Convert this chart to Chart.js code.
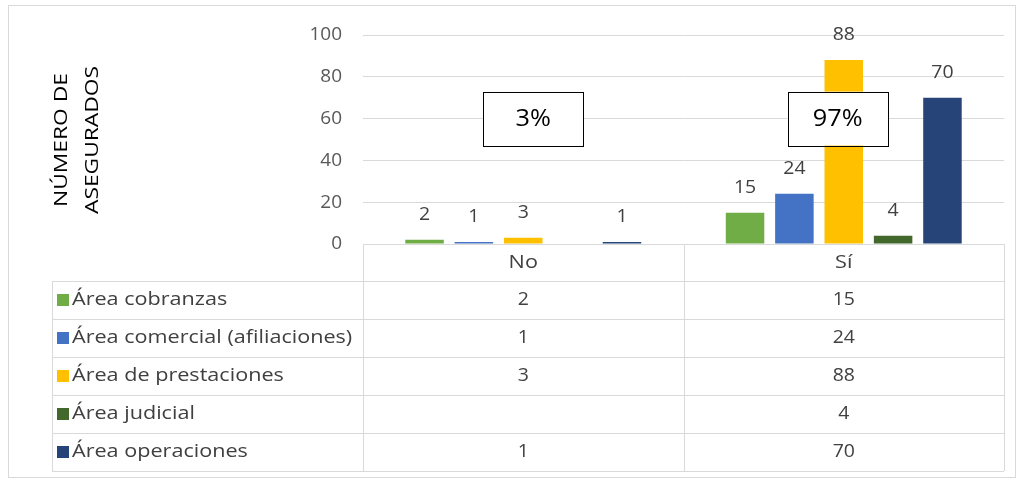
<!DOCTYPE html>
<html>
<head>
<meta charset="utf-8">
<script src="https://cdn.jsdelivr.net/npm/chart.js@4.4.0/dist/chart.umd.min.js"></script>
<style>
  body { margin: 0; background: #fff; }
  .chart-container { position: relative; width: 1024px; height: 483px; }
</style>
</head>
<body>
<div class="chart-container"><canvas id="chart"></canvas></div>
<script>
const categories = ['No', 'Sí'];
const seriesNames = ['Área cobranzas', 'Área comercial (afiliaciones)', 'Área de prestaciones', 'Área judicial', 'Área operaciones'];
const cobranzas = [2, 15];
const comercial = [1, 24];
const prestaciones = [3, 88];
const judicial = [null, 4];
const operaciones = [1, 70];
const shareLabels = ['3%', '97%'];
const yTicks = [0, 20, 40, 60, 80, 100];
const seriesColors = ['#70ad47', '#4472c4', '#ffc000', '#43682b', '#264478'];

const FONT = "'Open Sans', sans-serif";
const TEXT_STRETCH = 1.2;   // the source font is wider than Open Sans
const seriesValues = [cobranzas, comercial, prestaciones, judicial, operaciones];

function wideText(ctx, txt, x, y, sx) {
  ctx.save();
  ctx.translate(x, y);
  ctx.scale(sx, 1);
  ctx.fillText(txt, 0, 0);
  ctx.restore();
}

// outer frame of the chart object
const framePlugin = {
  id: 'frame',
  beforeDraw(chart) {
    const ctx = chart.ctx;
    ctx.save();
    ctx.fillStyle = '#fff';
    ctx.fillRect(0, 0, chart.width, chart.height);
    ctx.strokeStyle = '#d9d9d9';
    ctx.lineWidth = 1;
    ctx.strokeRect(8.5, 5.5, chart.width - 17, chart.height - 11);
    ctx.restore();
  }
};

// values above the bars
const valueLabels = {
  id: 'valueLabels',
  afterDatasetsDraw(chart) {
    const ctx = chart.ctx;
    ctx.save();
    ctx.font = '18px ' + FONT;
    ctx.fillStyle = '#404040';
    ctx.textAlign = 'center';
    ctx.textBaseline = 'middle';
    chart.data.datasets.forEach((ds, i) => {
      chart.getDatasetMeta(i).data.forEach((bar, j) => {
        if (ds.data[j] == null) return;
        wideText(ctx, String(ds.data[j]), bar.x, bar.y - 25, 1.08);
      });
    });
    ctx.restore();
  }
};

// percentage boxes
const shareBoxes = {
  id: 'shareBoxes',
  afterDraw(chart) {
    const ctx = chart.ctx;
    const xs = chart.scales.x, ys = chart.scales.y;
    const shift = [10, -6];
    ctx.save();
    shareLabels.forEach((txt, i) => {
      const cx = xs.getPixelForValue(i) + shift[i];
      const cy = ys.getPixelForValue(60);
      const w = 100, h = 54;
      ctx.fillStyle = '#fff';
      ctx.fillRect(cx - w / 2, cy - h / 2, w, h);
      ctx.strokeStyle = '#000';
      ctx.lineWidth = 1;
      ctx.strokeRect(Math.round(cx - w / 2) + 0.5, Math.round(cy - h / 2) + 0.5, w, h);
      ctx.fillStyle = '#000';
      ctx.font = '23px ' + FONT;
      ctx.textAlign = 'center';
      ctx.textBaseline = 'middle';
      wideText(ctx, txt, cx, cy + 1, 1.1);
    });
    ctx.restore();
  }
};

// y axis title (two lines) and data table
const dataTable = {
  id: 'dataTable',
  afterDraw(chart) {
    const ctx = chart.ctx;
    const area = chart.chartArea;
    const xs = chart.scales.x;
    const mid = (xs.getPixelForValue(0) + xs.getPixelForValue(1)) / 2;
    const cols = [area.left, mid, area.right];
    const tableLeft = 52;
    const top = area.bottom;
    const headerH = 37, rowH = 38;
    const bottom = top + headerH + rowH * seriesNames.length;
    const px = v => Math.round(v) + 0.5;

    ctx.save();
    ctx.strokeStyle = '#d9d9d9';
    ctx.lineWidth = 1;
    ctx.beginPath();
    ctx.moveTo(area.left, px(top)); ctx.lineTo(area.right, px(top));
    for (let r = 0; r <= seriesNames.length; r++) {
      const y = px(top + headerH + r * rowH);
      ctx.moveTo(tableLeft, y); ctx.lineTo(area.right, y);
    }
    cols.forEach(c => { ctx.moveTo(px(c), top); ctx.lineTo(px(c), bottom); });
    ctx.moveTo(px(tableLeft), top + headerH); ctx.lineTo(px(tableLeft), bottom);
    ctx.stroke();

    ctx.font = '18px ' + FONT;
    ctx.fillStyle = '#404040';
    ctx.textBaseline = 'middle';
    ctx.textAlign = 'center';
    categories.forEach((c, i) => wideText(ctx, c, xs.getPixelForValue(i), top + headerH / 2, TEXT_STRETCH));

    seriesNames.forEach((name, r) => {
      const cy = top + headerH + r * rowH + rowH / 2;
      ctx.fillStyle = seriesColors[r];
      ctx.fillRect(57, Math.round(cy - 6), 12, 12);
      ctx.fillStyle = '#404040';
      ctx.textAlign = 'left';
      wideText(ctx, name, 72, cy, TEXT_STRETCH);
      ctx.textAlign = 'center';
      seriesValues[r].forEach((v, j) => {
        if (v == null) return;
        wideText(ctx, String(v), xs.getPixelForValue(j), cy, 1.08);
      });
    });

    // axis title
    ctx.save();
    ctx.translate(0, 140);
    ctx.rotate(-Math.PI / 2);
    ctx.fillStyle = '#000';
    ctx.font = '19px ' + FONT;
    ctx.textAlign = 'center';
    ctx.textBaseline = 'middle';
    wideText(ctx, 'NÚMERO DE', 0, 62, TEXT_STRETCH);
    wideText(ctx, 'ASEGURADOS', 0, 93, TEXT_STRETCH);
    ctx.restore();
    ctx.restore();
  }
};

new Chart(document.getElementById('chart'), {
  type: 'bar',
  data: {
    labels: categories,
    datasets: seriesNames.map((name, i) => ({
      label: name,
      data: seriesValues[i],
      backgroundColor: seriesColors[i],
      categoryPercentage: 0.77,
      barPercentage: 0.78
    }))
  },
  options: {
    responsive: true,
    maintainAspectRatio: false,
    animation: false,
    layout: { padding: { top: 35, right: 20, bottom: 239, left: 0 } },
    plugins: {
      legend: { display: false },
      tooltip: { enabled: false }
    },
    scales: {
      x: { display: false },
      y: {
        min: 0,
        max: 100,
        afterFit: s => { s.width = 363; },
        afterBuildTicks: s => { s.ticks = yTicks.map(v => ({ value: v })); },
        border: { display: false },
        grid: { color: '#d9d9d9', drawTicks: false },
        ticks: {
          padding: 21,
          color: '#595959',
          font: { size: 19, family: FONT }
        }
      }
    }
  },
  plugins: [framePlugin, valueLabels, shareBoxes, dataTable]
});
</script>
</body>
</html>
